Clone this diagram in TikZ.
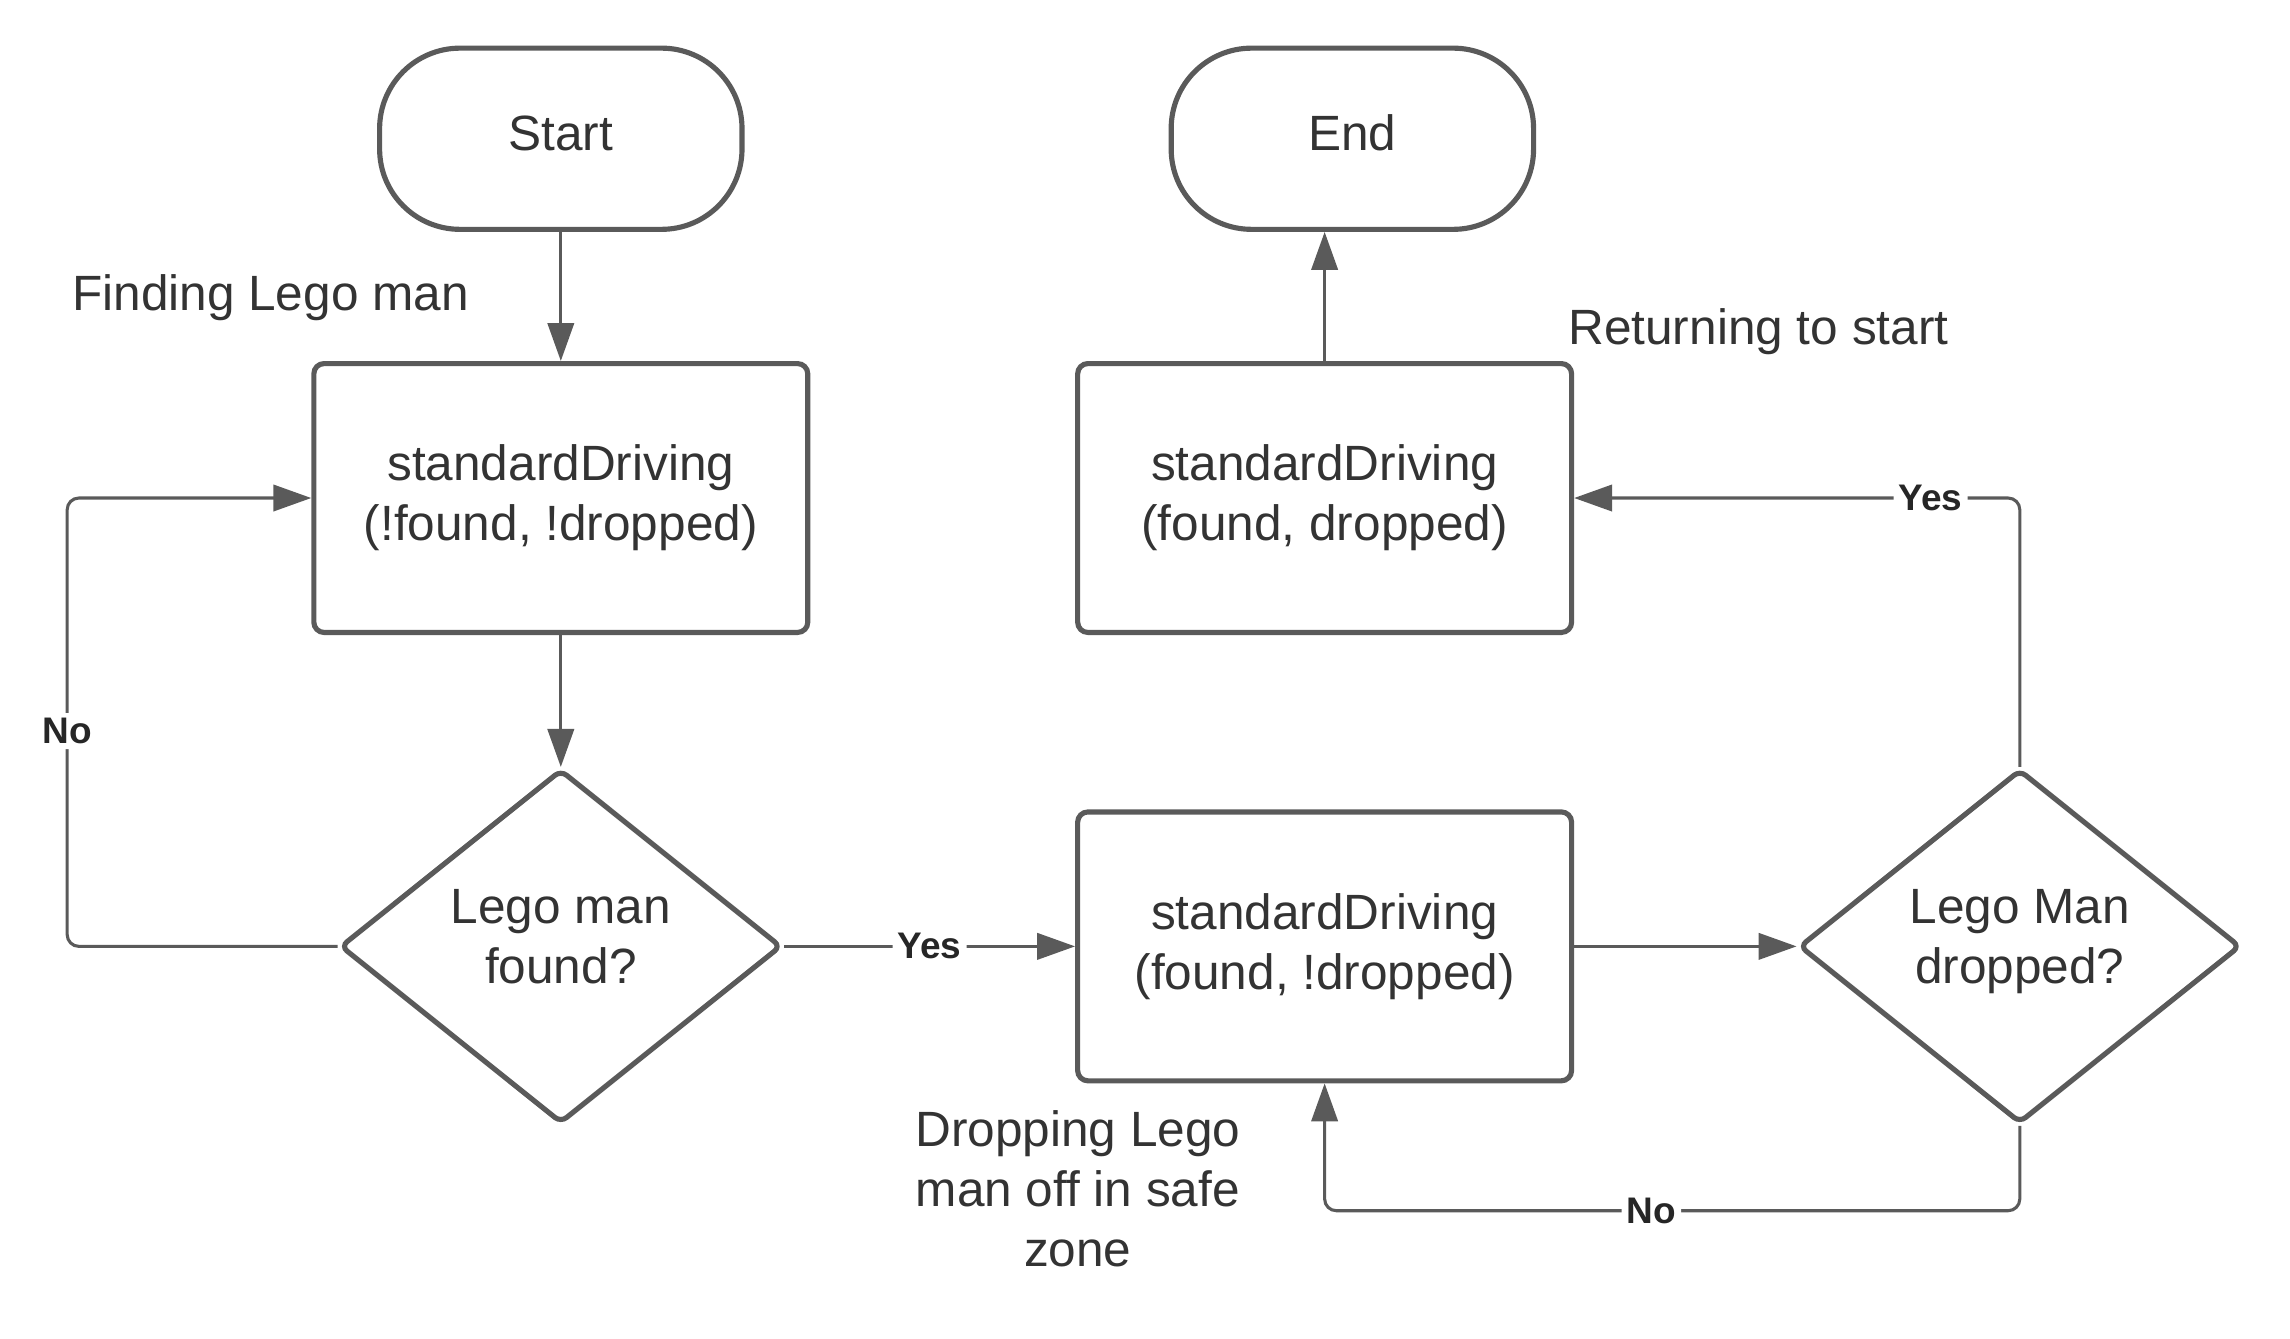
\documentclass[tikz,border=0pt]{standalone}
\usepackage{fontspec}
\setmainfont{Liberation Sans}
\usetikzlibrary{arrows.meta,shapes.geometric}
\definecolor{edgegray}{HTML}{5A5A5A}
\definecolor{txtgray}{HTML}{333333}

\begin{document}
\begin{tikzpicture}[x=0.01cm,y=-0.01cm,
  font=\fontsize{9.65}{11.7}\selectfont,text=txtgray,
  term/.style={draw=edgegray,line width=1pt,rounded corners=0.55cm,
    minimum width=2.48cm,minimum height=1.24cm,text depth=0.08cm},
  proc/.style={draw=edgegray,line width=1pt,rounded corners=0.07cm,
    minimum width=3.38cm,minimum height=1.84cm,align=center},
  decide/.style={diamond,draw=edgegray,line width=1pt,rounded corners=0.05cm,
    minimum width=3.02cm,minimum height=2.42cm,inner sep=0pt,align=center,
    text depth=0.14cm},
  conn/.style={draw=edgegray,line width=0.6pt,rounded corners=0.08cm,
    -{Triangle[length=0.26cm,width=0.18cm]}},
  lab/.style={fill=white,text=black!85,inner sep=1pt,
    font=\fontsize{7.2}{8}\selectfont\bfseries}]
\useasboundingbox (0,0) rectangle (1568,916.2);
\node[term] (start) at (384,95) {Start};
\node[term] (end) at (926,95) {End};
\node[proc] (box1) at (384,341) {standardDriving\\(!found, !dropped)};
\node[proc] (box2) at (907,341) {standardDriving\\(found, dropped)};
\node[decide] (dec1) at (384,648) {Lego man\\found?};
\node[proc] (box3) at (907,648) {standardDriving\\(found, !dropped)};
\node[decide] (dec2) at (1383,648) {Lego Man\\dropped?};
\node[anchor=west] (findtxt) at (37,204) {Finding Lego man};
\node (rettxt) at (1204,227) {Returning to start};
\node[align=center] (droptxt) at (738,814) {Dropping Lego\\man off in safe\\zone};

\draw[conn] (start) -- (box1);
\draw[conn] (box1) -- (dec1);
\draw[conn] (box2) -- (box2 |- end.south);
\draw[conn] (dec1.west) -- (46,648) |- node[lab,pos=0.24] {No} (box1.west);
\draw[conn] (dec1) -- node[lab] {Yes} (box3);
\draw[conn] (box3) -- (dec2);
\draw[conn] (dec2.north) |- node[lab,pos=0.6] {Yes} (box2.east);
\draw[conn] (dec2.south) -- (1383,829) -| node[lab,pos=0.265] {No} (box3.south);
\end{tikzpicture}
\end{document}
